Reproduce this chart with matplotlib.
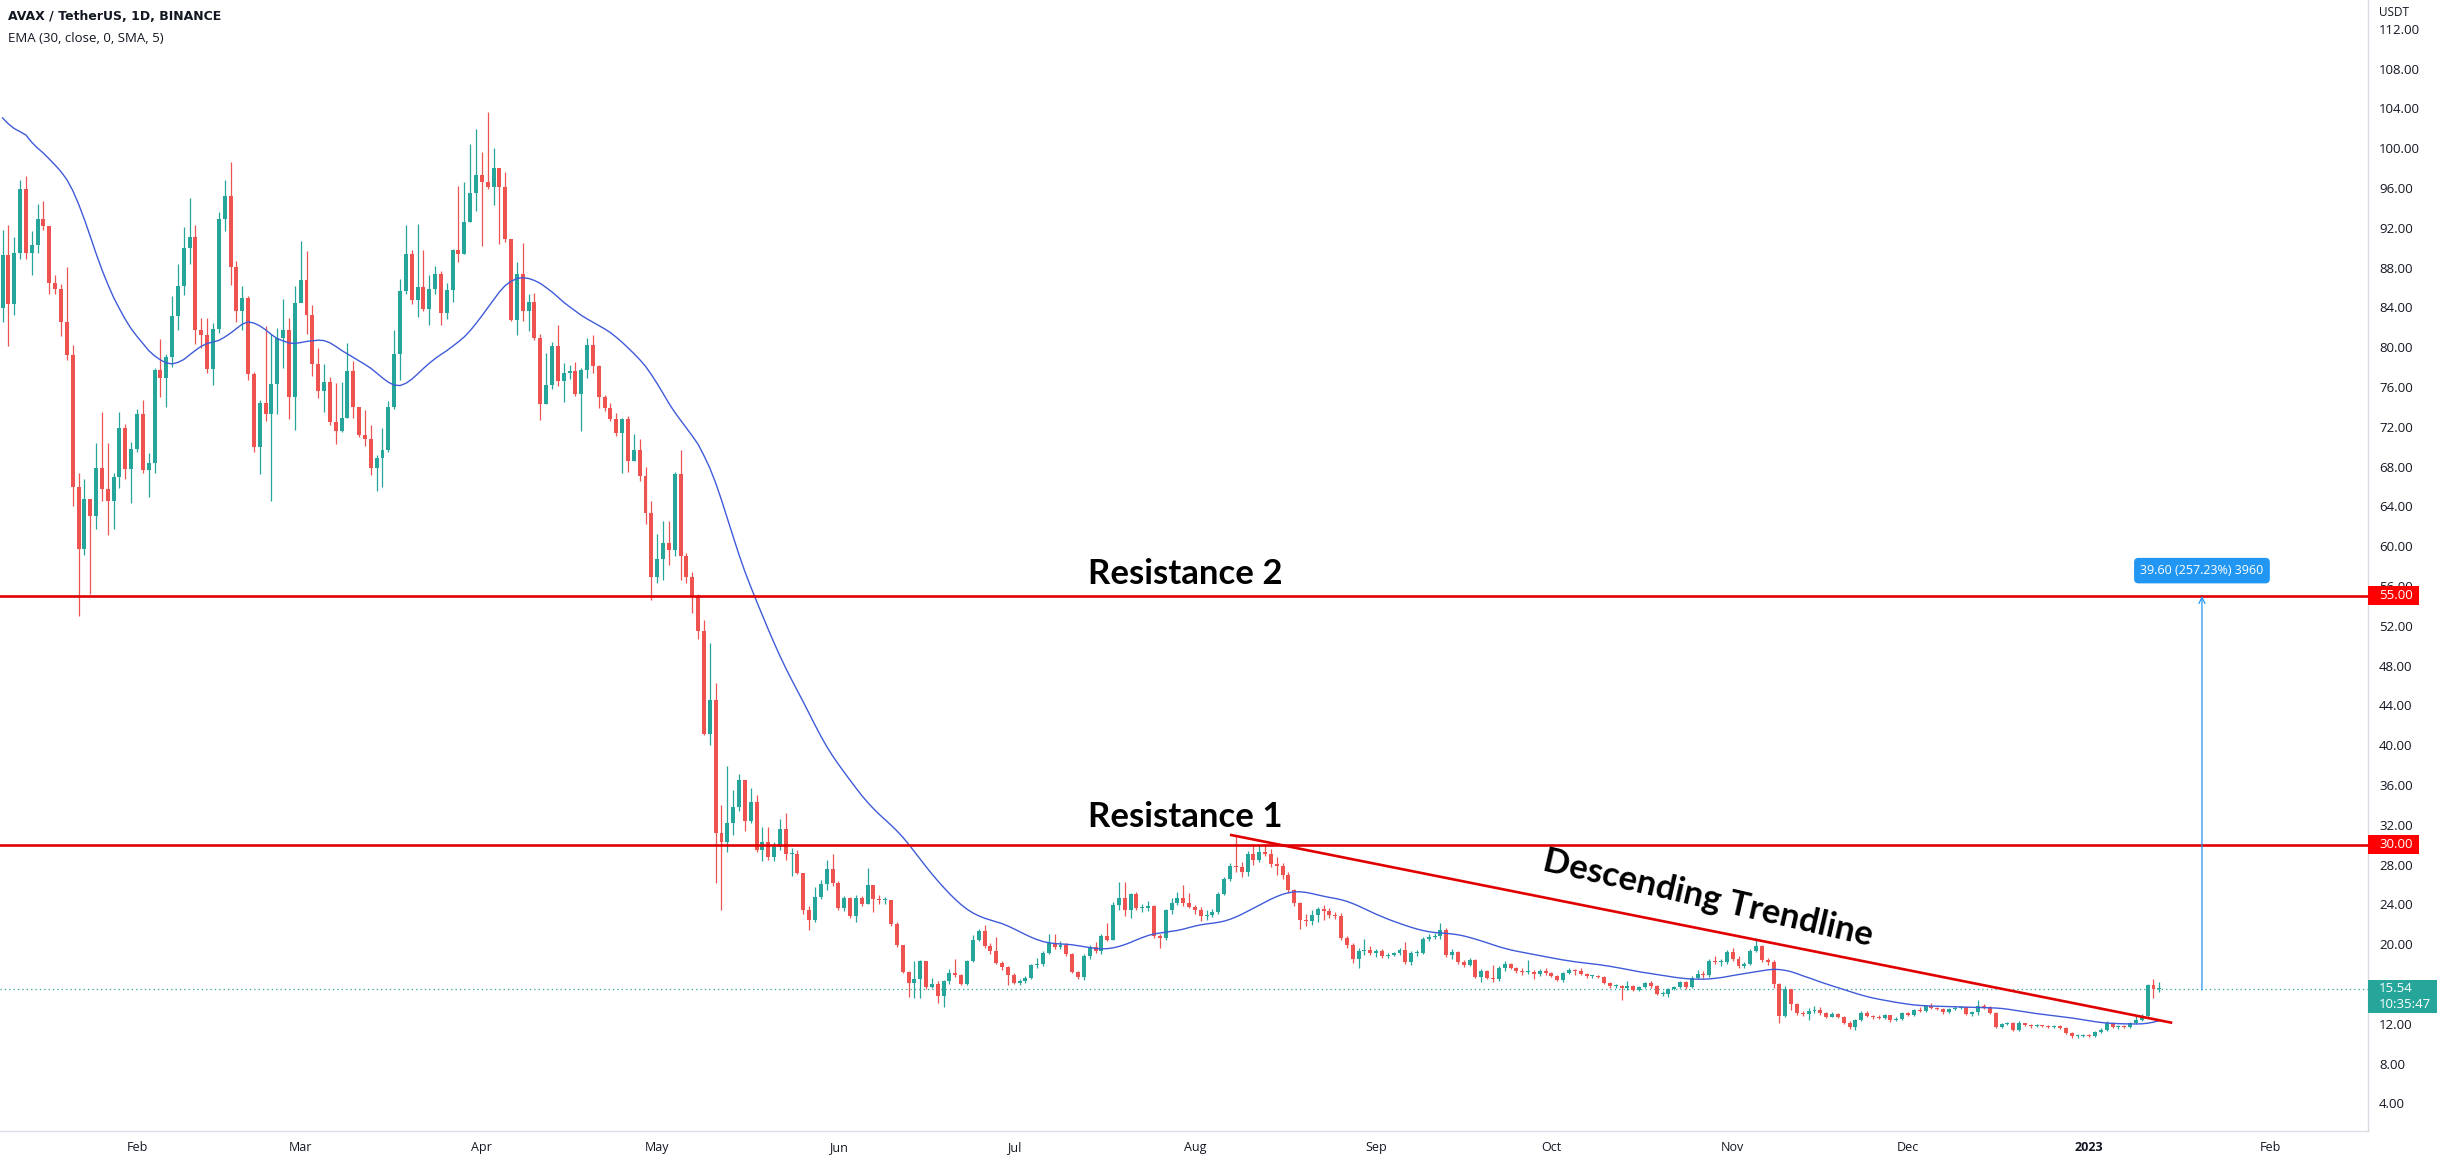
import numpy as np
import pandas as pd
import matplotlib
matplotlib.use('Agg')
import matplotlib.pyplot as plt
from matplotlib.patches import Rectangle
from matplotlib.transforms import blended_transform_factory

plt.rcParams['font.family'] = ['Open Sans', 'DejaVu Sans']

# AVAX/USDT daily candles, 2022-01-09 .. 2023-01-13 (open = previous close)
first_day = '2022-01-09'
first_open = 83.9
close_prices = [
    89.3, 84.3, 89.5, 95.9, 89.5, 90.3, 92.9, 92.2, 86.5, 85.9, 82.5, 79.2, 66.0, 59.7, 64.7, 63.0, 67.9, 65.8, 64.5, 67.0, 71.9, 67.8, 69.8,
    73.3, 67.7, 68.4, 77.7, 76.9, 79.0, 83.1, 86.2, 90.0, 91.1, 81.7, 81.2, 77.8, 81.8, 92.9, 95.2, 88.1, 83.6, 85.0, 77.3, 70.0, 74.4, 73.3, 76.3, 80.9, 81.7, 75.0, 84.4,
    86.8, 83.2, 78.3, 75.6, 76.5, 72.5, 71.6, 72.9, 77.6, 74.0, 71.2, 70.8, 67.9, 68.9, 69.7, 74.0, 79.3, 85.7, 89.4, 84.7, 86.1, 83.8, 85.9, 87.4, 83.4, 85.8, 89.8, 89.4, 92.6, 95.5, 97.3,
    96.6, 96.1, 98.0, 96.1, 90.9, 82.7, 87.4, 83.6, 84.5, 80.9, 74.3, 76.2, 80.1, 76.6, 77.4, 77.6, 75.3, 77.7, 80.2, 78.1, 75.0, 73.9, 72.8, 71.4, 72.8, 68.6, 69.7, 67.1, 63.3, 56.9,
    58.7, 60.3, 59.6, 67.3, 59.0, 56.9, 55.0, 51.5, 41.1, 44.5, 31.2, 30.3, 32.2, 33.8, 36.5, 32.4, 34.3, 29.5, 30.3, 28.8, 29.8, 31.6, 29.1, 29.1, 27.2, 23.4, 22.4, 24.7, 26.1, 27.6, 26.2,
    23.6, 24.6, 22.8, 24.6, 24.0, 26.0, 24.5, 24.4, 24.4, 22.0, 19.9, 17.2, 16.1, 16.5, 18.3, 15.7, 16.0, 14.8, 16.3, 17.1, 16.9, 16.0, 18.3, 20.4, 21.3, 19.8, 19.3, 18.1, 17.7, 16.9,
    16.1, 16.3, 16.6, 17.9, 18.0, 19.1, 20.1, 19.7, 19.9, 19.0, 17.2, 16.7, 18.8, 19.7, 19.3, 20.8, 20.4, 23.9, 24.6, 23.4, 25.0, 23.6, 23.6, 23.8, 20.8, 20.6, 23.4, 24.1, 24.6, 24.1, 23.7,
    23.4, 22.8, 22.9, 23.2, 25.0, 26.6, 27.9, 27.8, 27.3, 29.1, 28.5, 29.3, 29.1, 28.1, 27.9, 27.0, 25.5, 24.1, 22.4, 22.3, 22.9, 23.5, 23.3, 22.9, 22.8, 20.6, 19.9, 18.5, 19.3, 19.4, 19.1,
    19.3, 18.8, 18.9, 19.1, 19.4, 18.2, 19.1, 19.1, 20.5, 20.7, 20.8, 21.4, 18.9, 19.2, 18.2, 17.9, 18.4, 16.7, 17.3, 16.6, 16.5, 17.6, 18.0, 17.6, 17.3, 17.2, 17.2, 17.0, 17.3, 17.1,
    16.8, 16.4, 17.1, 17.4, 17.3, 17.0, 16.8, 16.8, 16.7, 16.1, 15.8, 15.8, 15.6, 15.8, 15.4, 15.7, 16.1, 15.8, 15.0, 15.0, 15.5, 15.7, 16.2, 15.7, 16.6, 17.0, 16.9, 18.3, 18.2, 18.2, 19.2,
    18.5, 17.8, 18.0, 19.3, 19.8, 18.4, 18.2, 16.0, 12.8, 15.5, 14.0, 13.1, 13.0, 13.3, 13.4, 13.1, 12.7, 13.0, 12.7, 12.1, 11.7, 12.4, 13.1, 12.8, 12.7, 12.6, 12.9, 12.4, 12.5, 13.1,
    12.9, 13.4, 13.3, 13.8, 13.6, 13.5, 13.2, 13.5, 13.6, 13.7, 13.0, 13.2, 13.8, 13.7, 13.1, 11.7, 12.0, 12.1, 11.4, 12.1, 11.9, 11.8, 11.9, 11.8, 11.7, 11.8, 11.6, 11.1, 10.8, 10.8, 10.9,
    10.8, 11.2, 11.4, 12.1, 11.7, 11.8, 11.7, 12.1, 12.4, 12.8, 15.9, 15.5, 15.54,
]
high_prices = [
    91.8, 92.3, 91.1, 96.8, 97.2, 91.7, 94.4, 94.7, 92.2, 87.3, 86.4, 88.1, 80.2, 67.4, 66.8, 64.7, 70.4, 73.5, 70.4, 67.4, 73.5, 72.3, 70.5,
    73.8, 74.7, 69.4, 77.9, 80.8, 79.3, 85.2, 88.4, 92.1, 95.0, 92.3, 82.9, 82.9, 82.4, 93.6, 96.8, 98.6, 88.7, 86.2, 85.2, 77.5, 74.7, 82.1, 81.3, 81.9, 84.8, 82.9, 86.2,
    90.7, 89.7, 84.2, 79.9, 78.3, 77.0, 76.4, 76.5, 80.4, 78.6, 73.3, 73.7, 72.2, 69.2, 71.9, 74.6, 81.7, 86.9, 92.3, 89.8, 92.4, 89.8, 87.3, 88.2, 87.7, 86.5, 89.9, 96.2, 96.6, 100.4, 101.9,
    99.6, 103.6, 100.0, 97.9, 97.6, 90.9, 88.6, 90.5, 85.4, 85.5, 81.3, 79.4, 80.5, 82.2, 78.4, 78.2, 78.5, 77.9, 80.9, 81.2, 78.2, 75.2, 74.4, 73.4, 72.9, 73.1, 71.3, 70.8, 68.0, 64.5,
    61.2, 62.5, 62.5, 67.5, 69.7, 59.3, 57.4, 55.2, 52.6, 50.3, 46.3, 34.0, 37.9, 35.5, 37.1, 36.5, 35.7, 35.0, 31.8, 31.8, 30.3, 32.6, 33.2, 29.7, 29.5, 27.2, 23.8, 25.8, 26.5, 28.5, 29.1,
    26.4, 24.8, 24.7, 24.9, 24.8, 27.7, 26.0, 24.9, 24.7, 24.4, 22.2, 19.9, 17.3, 18.3, 18.4, 18.3, 16.6, 16.3, 16.4, 17.5, 18.5, 17.0, 18.4, 20.9, 21.5, 21.9, 20.1, 20.7, 18.3, 17.8,
    17.1, 16.5, 16.8, 18.0, 18.6, 19.3, 21.0, 21.0, 20.3, 20.1, 19.1, 17.3, 19.0, 19.9, 20.2, 21.0, 22.1, 24.2, 26.3, 26.3, 25.2, 25.3, 24.0, 24.3, 23.9, 21.0, 23.5, 24.6, 25.3, 26.0, 25.1,
    23.9, 23.7, 23.4, 23.5, 25.3, 26.8, 28.2, 31.0, 28.3, 29.4, 30.1, 30.0, 30.1, 29.6, 28.8, 28.2, 27.3, 25.6, 24.2, 23.0, 23.4, 23.7, 23.9, 23.6, 23.2, 23.1, 20.8, 20.1, 19.6, 20.5, 19.8,
    19.5, 19.5, 19.1, 19.2, 19.6, 20.2, 19.3, 19.4, 20.7, 21.0, 21.1, 22.1, 21.6, 19.5, 19.3, 18.4, 18.6, 18.5, 17.5, 17.4, 17.9, 17.8, 18.3, 18.1, 17.7, 17.6, 18.4, 17.4, 17.5, 17.6,
    17.2, 16.9, 17.2, 17.6, 17.5, 17.6, 17.1, 16.9, 16.9, 16.8, 16.2, 16.0, 15.9, 16.3, 15.9, 15.8, 16.2, 16.3, 15.9, 15.3, 15.6, 15.8, 16.3, 16.3, 16.8, 17.4, 17.3, 18.5, 18.8, 18.5, 19.4,
    19.6, 18.8, 18.2, 19.5, 20.6, 19.9, 18.6, 18.4, 16.1, 15.8, 15.5, 14.1, 13.3, 13.6, 13.8, 13.7, 13.2, 13.2, 13.1, 12.8, 12.3, 12.5, 13.3, 13.3, 12.9, 12.9, 13.0, 12.9, 12.7, 13.2,
    13.2, 13.5, 13.7, 13.9, 14.1, 13.7, 13.6, 13.6, 13.8, 13.8, 13.7, 13.3, 14.4, 14.0, 13.8, 13.2, 12.1, 12.2, 12.2, 12.3, 12.1, 12.0, 12.0, 11.9, 11.9, 11.9, 11.9, 11.7, 11.2, 11.0, 11.0,
    11.0, 11.3, 11.6, 12.3, 12.2, 11.9, 11.9, 12.2, 12.8, 13.0, 16.0, 16.5, 16.2,
]
low_prices = [
    82.5, 80.1, 83.2, 88.9, 88.9, 87.3, 89.5, 91.8, 85.4, 85.4, 81.1, 78.7, 64.0, 53.0, 59.1, 55.2, 61.7, 64.5, 61.1, 61.7, 65.9, 66.8, 64.3,
    69.5, 67.4, 64.9, 67.4, 75.0, 74.0, 78.0, 81.7, 85.3, 88.4, 80.3, 79.9, 77.4, 76.2, 81.4, 91.7, 86.3, 82.5, 81.7, 76.7, 69.5, 67.3, 72.6, 64.5, 73.3, 77.9, 72.8, 71.7,
    85.3, 81.3, 77.1, 74.9, 73.5, 72.2, 70.3, 71.5, 72.9, 72.9, 71.0, 70.1, 67.2, 65.6, 66.0, 69.5, 73.8, 76.7, 85.4, 84.3, 83.0, 83.6, 82.2, 85.4, 82.2, 82.8, 84.5, 88.6, 89.4, 92.6, 93.7,
    90.2, 95.9, 94.3, 90.4, 90.6, 82.6, 81.2, 82.6, 81.6, 80.7, 72.7, 74.3, 75.8, 76.1, 74.5, 76.8, 75.1, 71.6, 76.9, 77.4, 73.9, 73.6, 72.6, 71.1, 67.4, 67.5, 68.6, 66.6, 62.2, 54.6,
    56.3, 56.6, 58.1, 59.0, 56.6, 56.3, 53.3, 50.7, 41.0, 40.0, 26.2, 23.4, 29.3, 31.0, 33.4, 31.4, 32.2, 29.3, 28.4, 28.5, 28.4, 29.5, 28.5, 26.9, 27.1, 23.0, 21.4, 22.2, 24.5, 25.5, 25.9,
    23.4, 23.3, 22.6, 22.2, 23.8, 24.0, 23.2, 24.0, 24.0, 21.8, 19.7, 17.1, 14.7, 14.6, 14.6, 15.5, 15.6, 14.1, 13.7, 16.0, 16.7, 15.9, 15.9, 18.2, 20.3, 19.6, 19.0, 18.0, 17.4, 15.9,
    16.0, 15.9, 16.1, 16.5, 17.6, 17.8, 19.0, 19.5, 19.5, 18.8, 17.1, 16.5, 16.4, 18.5, 19.1, 19.0, 20.3, 20.4, 23.4, 22.8, 22.6, 23.4, 23.2, 23.3, 20.6, 19.6, 20.4, 23.0, 23.9, 23.8, 23.6,
    23.0, 22.3, 22.4, 22.7, 23.0, 24.9, 26.4, 27.3, 26.8, 26.9, 28.0, 28.3, 28.9, 27.8, 27.0, 26.6, 25.1, 23.8, 21.5, 21.8, 21.9, 22.2, 22.4, 22.6, 22.5, 20.4, 19.6, 18.1, 17.6, 18.9, 18.9,
    18.7, 18.6, 18.6, 18.8, 18.9, 18.0, 17.9, 18.8, 19.0, 20.3, 20.5, 20.5, 18.7, 18.5, 18.0, 17.7, 17.8, 16.6, 16.2, 16.5, 16.2, 16.3, 17.3, 17.5, 17.1, 16.9, 17.0, 16.5, 16.8, 16.9,
    16.7, 16.3, 16.2, 17.0, 16.9, 16.9, 16.6, 16.6, 16.6, 16.0, 15.6, 15.6, 14.4, 15.4, 15.3, 15.3, 15.6, 15.6, 14.9, 14.8, 14.7, 15.4, 15.6, 15.5, 15.6, 16.5, 16.6, 16.7, 18.0, 17.8, 18.0,
    18.3, 17.6, 17.6, 17.9, 19.2, 18.2, 17.9, 15.6, 12.1, 12.7, 13.4, 12.9, 12.8, 12.4, 13.1, 12.9, 12.6, 12.7, 12.6, 12.0, 11.5, 11.4, 12.3, 12.7, 12.5, 12.5, 12.5, 12.2, 12.3, 12.4,
    12.8, 12.8, 13.2, 13.2, 13.5, 13.4, 13.0, 13.1, 13.4, 13.5, 12.9, 12.8, 12.9, 13.5, 13.0, 11.6, 11.6, 11.9, 11.3, 11.3, 11.8, 11.6, 11.7, 11.7, 11.6, 11.6, 11.5, 11.0, 10.6, 10.6, 10.7,
    10.7, 10.7, 11.1, 11.3, 11.6, 11.5, 11.6, 11.6, 12.0, 12.3, 12.7, 14.6, 15.2,
]
ema_seed = 104.0   # EMA value just before the first visible candle

# levels and drawings
resistance_levels = [55.0, 30.0]
resistance_labels = ['Resistance 2', 'Resistance 1']
trend_dates = ['2022-08-07 00:00', '2023-01-15 05:00']
trend_prices = [31.0, 12.1]
last_price = 15.54
countdown = '10:35:47'
measure_date = '2023-01-20 07:00'
measure_from, measure_to = 15.40, 55.0
measure_text = '39.60 (257.23%) 3960'

month_dates = ['2022-02-01', '2022-03-01', '2022-04-01', '2022-05-01', '2022-06-01', '2022-07-01',
               '2022-08-01', '2022-09-01', '2022-10-01', '2022-11-01', '2022-12-01', '2023-01-01', '2023-02-01']
month_labels = ['Feb', 'Mar', 'Apr', 'May', 'Jun', 'Jul', 'Aug', 'Sep', 'Oct', 'Nov', 'Dec', '2023', 'Feb']
price_ticks = list(range(4, 116, 4))

UP, DOWN = '#26a69a', '#ef5350'
LINE_RED = '#e00000'
TXT = '#131722'

ref = pd.Timestamp('2022-02-01')
def day_num(d):
    return (pd.to_datetime(d, format='ISO8601') - ref) / pd.Timedelta(days=1)

closes = np.array(close_prices)
highs = np.array(high_prices)
lows = np.array(low_prices)
opens = np.concatenate([[first_open], closes[:-1]])
x = day_num(pd.date_range(first_day, periods=len(closes)).strftime('%Y-%m-%d')).values

ema = pd.Series(np.concatenate([[ema_seed], closes])).ewm(span=30, adjust=False).mean()[1:]
ema_smooth = ema.rolling(5, min_periods=1).mean().values

fig = plt.figure(figsize=(24.42, 11.61), dpi=100)
ax = fig.add_axes([0, 30 / 1161, 2368 / 2442, 1131 / 1161])
ax.set_xlim(-23.44, 381.7)
ax.set_ylim(1.23, 114.9)

# candles
cols = np.where(closes >= opens, UP, DOWN)
ax.vlines(x, lows, highs, colors=cols, lw=0.9, zorder=3)
body_lo = np.minimum(opens, closes)
body_h = np.maximum(np.abs(closes - opens), 0.1)
ax.bar(x, body_h, bottom=body_lo, width=0.68, color=cols, lw=0, zorder=4)

ax.plot(x, ema_smooth, color='#3f5bd9', lw=1.0, zorder=5)

# levels, trendline, price line
for lvl in resistance_levels:
    ax.axhline(lvl, color=LINE_RED, lw=1.9, zorder=6)
ax.plot(day_num(trend_dates), trend_prices, color=LINE_RED, lw=1.9, zorder=6,
        solid_capstyle='butt')
ax.axhline(last_price, color=UP, lw=0.9, ls=(0, (1, 2.5)), zorder=2)

# measuring arrow
mx = day_num(measure_date)
ax.annotate('', xy=(mx, measure_to), xytext=(mx, measure_from),
            arrowprops=dict(arrowstyle='->', color='#2196f3', lw=0.9,
                            shrinkA=0, shrinkB=0, mutation_scale=11), zorder=6)
ax.text(mx, measure_to + 2.55, measure_text, ha='center', va='center', color='white',
        fontsize=9, zorder=7,
        bbox=dict(boxstyle='round,pad=0.5,rounding_size=0.35', fc='#2196f3', ec='none'))

# annotations
ann = dict(ha='center', fontsize=25, fontweight='bold', family=['Lato', 'DejaVu Sans'],
           color='black', zorder=8)
ax.text(179.3, 56.2, resistance_labels[0], va='baseline', **ann)
ax.text(179.3, 31.8, resistance_labels[1], va='baseline', **ann)
ax.text(268.8, 24.6, 'Descending Trendline', va='center', rotation=-13,
        rotation_mode='anchor', **ann)

# axes styling
for s in ['top', 'left']:
    ax.spines[s].set_visible(False)
for s in ['right', 'bottom']:
    ax.spines[s].set_color('#d9dce3')
    ax.spines[s].set_linewidth(1)
ax.yaxis.tick_right()
ax.set_yticks(price_ticks)
ax.set_yticklabels([f'{v:.2f}' for v in price_ticks])
ax.tick_params(axis='y', length=0, pad=8, labelsize=9.5, labelcolor=TXT)
ax.set_xticks(day_num(month_dates))
ax.set_xticklabels(month_labels)
ax.tick_params(axis='x', length=0, pad=7, labelsize=9, labelcolor=TXT)
for lab in ax.get_xticklabels():
    if lab.get_text() == '2023':
        lab.set_fontweight('bold')

# price tags on the axis
trans = blended_transform_factory(ax.transAxes, ax.transData)
ppu = 1131 / (114.9 - 1.23)
aw = 2368
for lvl in resistance_levels:
    ax.add_patch(Rectangle((1.0, lvl - 9.5 / ppu), 51 / aw, 19 / ppu, transform=trans,
                           fc='#ff0000', ec='none', clip_on=False, zorder=9))
    ax.text(1.0 + 11 / aw, lvl, f'{lvl:.2f}', transform=trans, ha='left', va='center',
            color='white', fontsize=9.5, clip_on=False, zorder=10)
ax.add_patch(Rectangle((1.0, last_price - 24.5 / ppu), 69 / aw, 33 / ppu, transform=trans,
                       fc=UP, ec='none', clip_on=False, zorder=9))
ax.text(1.0 + 11 / aw, last_price, f'{last_price:.2f}', transform=trans, ha='left',
        va='center', color='white', fontsize=9.5, clip_on=False, zorder=10)
ax.text(1.0 + 11 / aw, last_price - 15.5 / ppu, countdown, transform=trans, ha='left',
        va='center', color='white', fontsize=9.5, clip_on=False, zorder=10)

fig.text(2379 / 2442, 1 - 13 / 1161, 'USDT', ha='left', va='center', fontsize=8.5, color=TXT)
fig.text(8 / 2442, 1 - 17 / 1161, 'AVAX / TetherUS, 1D, BINANCE', ha='left', va='center',
         fontsize=9, fontweight='bold', family='DejaVu Sans', color=TXT)
fig.text(8 / 2442, 1 - 38 / 1161, 'EMA (30, close, 0, SMA, 5)', ha='left', va='center',
         fontsize=9.5, color=TXT)

fig.savefig('out.png', dpi=100, facecolor='white')
